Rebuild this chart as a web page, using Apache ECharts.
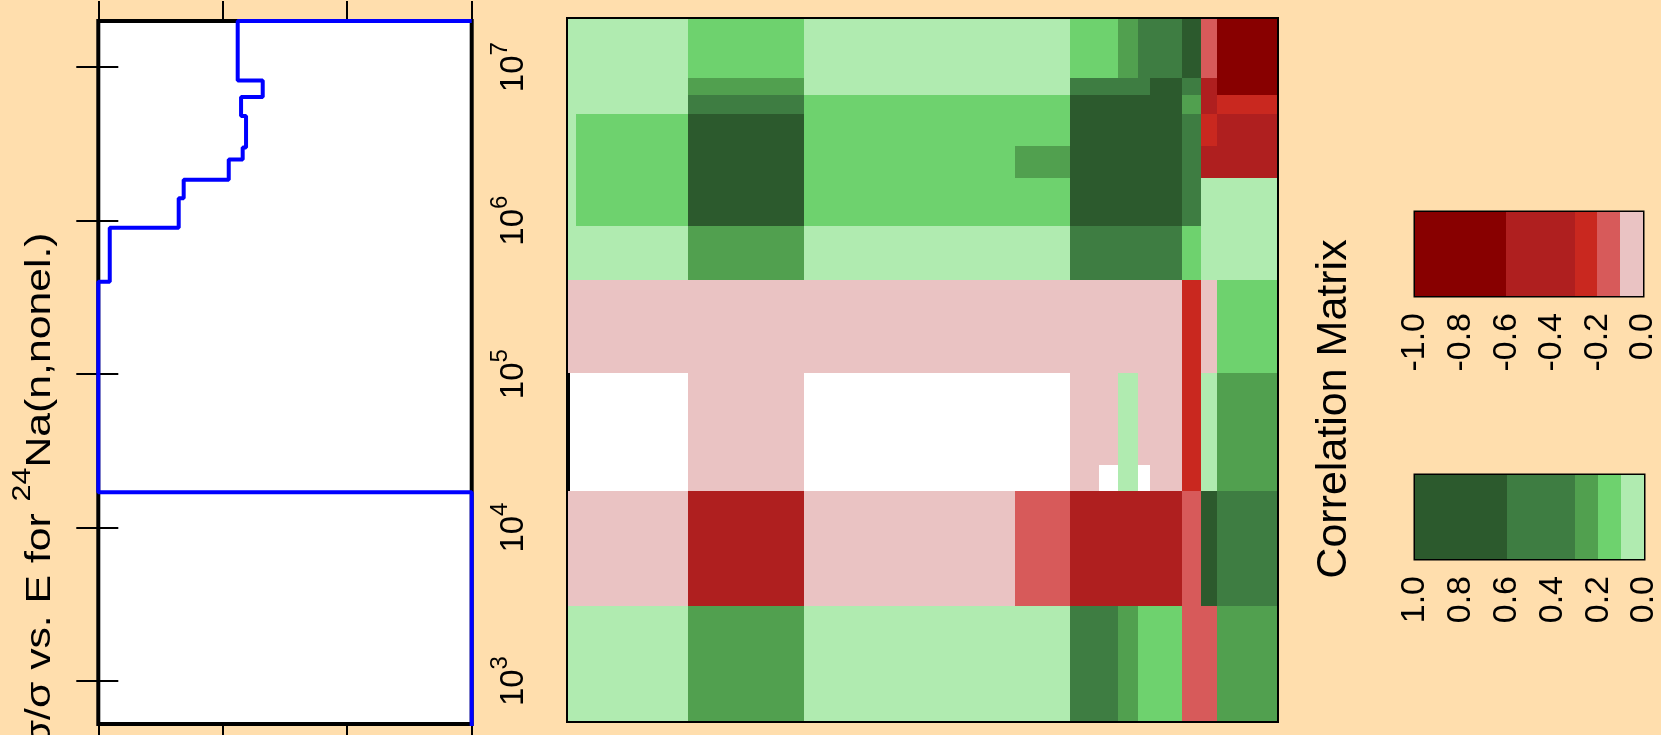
<!DOCTYPE html>
<html><head><meta charset="utf-8">
<script src="https://cdn.jsdelivr.net/npm/echarts@6/dist/echarts.min.js"></script>
<style>html,body{margin:0;padding:0;background:#FFDEAD;}#c{width:1661px;height:735px;}</style>
</head><body><div id="c"></div>
<script>
// ---------- data ----------
// energy group boundaries (eV), shared by both axes of the correlation matrix
const groupEdges = [500, 565, 3000, 1.7e4, 2.5e4, 1e5, 4e5, 9e5, 1.4e6, 1.85e6, 2.5e6, 3e6, 4.8e6, 6.4e6, 8.2e6, 2e7];
// correlation values: rows from highest group (top) to lowest group (bottom); columns from lowest to highest group
const corrRows = [
  [0.05,0.05,0.15,0.05,0.05,0.05,0.05,0.15,0.15,0.25,0.45,0.45,0.8,-0.15,-0.8],
  [0.05,0.05,0.25,0.05,0.05,0.05,0.05,0.45,0.45,0.45,0.45,0.8,0.45,-0.45,-0.8],
  [0.05,0.05,0.45,0.15,0.15,0.15,0.15,0.8,0.8,0.8,0.8,0.8,0.25,-0.45,-0.25],
  [0.05,0.15,0.8,0.15,0.15,0.15,0.15,0.8,0.8,0.8,0.8,0.8,0.45,-0.25,-0.45],
  [0.05,0.15,0.8,0.15,0.15,0.15,0.25,0.8,0.8,0.8,0.8,0.8,0.45,-0.45,-0.45],
  [0.05,0.15,0.8,0.15,0.15,0.15,0.25,0.8,0.8,0.8,0.8,0.8,0.45,-0.45,-0.45],
  [0.05,0.15,0.8,0.15,0.15,0.15,0.15,0.8,0.8,0.8,0.8,0.8,0.45,0.05,0.05],
  [0.05,0.15,0.8,0.15,0.15,0.15,0.15,0.8,0.8,0.8,0.8,0.8,0.45,0.05,0.05],
  [0.05,0.05,0.25,0.05,0.05,0.05,0.05,0.45,0.45,0.45,0.45,0.45,0.15,0.05,0.05],
  [-0.05,-0.05,-0.05,-0.05,-0.05,-0.05,-0.05,-0.05,-0.05,-0.05,-0.05,-0.05,-0.25,-0.05,0.15],
  [null,null,-0.05,null,null,null,null,-0.05,-0.05,0.05,-0.05,-0.05,-0.25,0.05,0.25],
  [null,null,-0.05,null,null,null,null,-0.05,null,0.05,null,-0.05,-0.25,0.05,0.25],
  [-0.05,-0.05,-0.45,-0.05,-0.05,-0.05,-0.15,-0.45,-0.45,-0.45,-0.45,-0.45,-0.15,0.8,0.45],
  [0.05,0.05,0.25,0.05,0.05,0.05,0.05,0.45,0.45,0.25,0.15,0.15,-0.15,-0.15,0.25],
  [0.05,0.05,0.25,0.05,0.05,0.05,0.05,0.45,0.45,0.25,0.15,0.15,-0.15,-0.15,0.25]
];
// relative uncertainty step curve
const uncEdges  = [100, 1.7e4, 4e5, 9e5, 1.4e6, 1.85e6, 2.5e6, 3e6, 4.8e6, 6.4e6, 8.2e6, 2e7];
const uncValues = [0.3, 0, 0.0092, 0.0646, 0.0686, 0.1048, 0.116, 0.1187, 0.1147, 0.1321, 0.112];
const uncTop = 0.3;
const energyTicks = [1e3, 1e4, 1e5, 1e6, 1e7];
const uncTicks = [0, 0.1, 0.2, 0.3];
// colour scales
const redBreaks   = [-1, -0.6, -0.3, -0.2, -0.1, 0];
const redColors   = ['#880000', '#AF1F1F', '#C9281F', '#D75A5A', '#EAC3C3'];
const greenBreaks = [1, 0.6, 0.3, 0.2, 0.1, 0];
const greenColors = ['#2C5A2D', '#3E7D42', '#51A04F', '#6ED26E', '#B0EBB0'];
const redTickVals   = [-1, -0.8, -0.6, -0.4, -0.2, 0];
const greenTickVals = [1, 0.8, 0.6, 0.4, 0.2, 0];

// ---------- helpers ----------
const FONT = 'Liberation Sans, Arial, sans-serif';
function cellColor(v) {
  if (v < 0) { for (let i = 0; i < 5; i++) if (v >= redBreaks[i] && v <= redBreaks[i + 1]) return redColors[i]; }
  else { for (let i = 0; i < 5; i++) if (v <= greenBreaks[i] && v >= greenBreaks[i + 1]) return greenColors[i]; }
  return '#fff';
}
const cells = [];
const nG = groupEdges.length - 1;
corrRows.forEach((row, ri) => {
  const r = nG - 1 - ri;
  row.forEach((v, c) => {
    if (v === null) return;
    cells.push([groupEdges[c], groupEdges[c + 1], groupEdges[r], groupEdges[r + 1], v]);
  });
});
const stepPts = [];
uncValues.forEach((v, i) => { stepPts.push([v, uncEdges[i]]); stepPts.push([v, uncEdges[i + 1]]); });
stepPts.push([uncTop, uncEdges[uncEdges.length - 1]]);

const redSegs = [], greenSegs = [];
for (let i = 0; i < 5; i++) {
  redSegs.push([redBreaks[i], redBreaks[i + 1], i]);
  greenSegs.push([greenBreaks[i], greenBreaks[i + 1], i]);
}

function snapRect(ax, ay, bx, by) {
  const x0 = Math.round(Math.min(ax, bx)), x1 = Math.round(Math.max(ax, bx));
  const y0 = Math.round(Math.min(ay, by)), y1 = Math.round(Math.max(ay, by));
  return { x: x0, y: y0, width: x1 - x0, height: y1 - y0 };
}
function rectItem(colorFn) {
  return function (params, api) {
    const p0 = api.coord([api.value(0), api.value(3)]);
    const p1 = api.coord([api.value(1), api.value(2)]);
    const cs = params.coordSys;
    const rect = echarts.graphic.clipRectByRect(
      snapRect(p0[0], p0[1], p1[0], p1[1]),
      snapRect(cs.x, cs.y, cs.x + cs.width, cs.y + cs.height));
    if (!rect || rect.width <= 0 || rect.height <= 0) return;
    return { type: 'rect', shape: rect, style: { fill: colorFn(api) } };
  };
}
function barItem(colors) {
  return function (params, api) {
    const p0 = api.coord([api.value(0), 1]);
    const p1 = api.coord([api.value(1), 0]);
    return { type: 'rect', shape: snapRect(p0[0], p0[1], p1[0], p1[1]), style: { fill: colors[api.value(2)] } };
  };
}
const tickStyle = { color: '#000', width: 2 };
const energyLabelRich = {
  n: { fontSize: 33, lineHeight: 42, verticalAlign: 'bottom', fontFamily: FONT, color: '#000' },
  s: { fontSize: 24, lineHeight: 24, verticalAlign: 'top', fontFamily: FONT, color: '#000' }
};

const chart = echarts.init(document.getElementById('c'), null, { renderer: 'canvas' });
chart.setOption({
  backgroundColor: '#FFDEAD',
  animation: false,
  grid: [
    { left: 98.3, top: 21, width: 373.4, height: 703, show: true, backgroundColor: '#fff', borderColor: '#000', borderWidth: 4, containLabel: false, outerBoundsMode: 'none' },
    { left: 568, top: 19, width: 709, height: 702, show: true, backgroundColor: '#fff', borderColor: '#000', borderWidth: 4, containLabel: false, outerBoundsMode: 'none' },
    { left: 1415, top: 212, width: 228, height: 84, show: true, borderColor: '#000', borderWidth: 3, containLabel: false, outerBoundsMode: 'none' },
    { left: 1415, top: 475, width: 229, height: 84, show: true, borderColor: '#000', borderWidth: 3, containLabel: false, outerBoundsMode: 'none' }
  ],
  xAxis: [
    { gridIndex: 0, type: 'value', position: 'top', min: 0, max: 0.3, interval: 0.1,
      axisLine: { show: false }, splitLine: { show: false }, axisLabel: { show: false },
      axisTick: { show: true, length: 20, lineStyle: tickStyle, customValues: uncTicks } },
    { gridIndex: 0, type: 'value', position: 'bottom', min: 0, max: 0.3, interval: 0.1,
      axisLine: { show: false }, splitLine: { show: false }, axisLabel: { show: false },
      axisTick: { show: true, length: 20, lineStyle: tickStyle, customValues: uncTicks } },
    { gridIndex: 1, type: 'log', min: 500, max: 2e7, show: false },
    { gridIndex: 2, type: 'value', position: 'bottom', min: -1, max: 0, interval: 0.2,
      axisLine: { show: false }, axisTick: { show: false }, splitLine: { show: false },
      axisLabel: { rotate: 90, margin: 17, fontSize: 34, fontFamily: FONT, color: '#000', customValues: redTickVals,
        formatter: v => v.toFixed(1) } },
    { gridIndex: 3, type: 'value', position: 'bottom', min: 0, max: 1, interval: 0.2, inverse: true,
      axisLine: { show: false }, axisTick: { show: false }, splitLine: { show: false },
      axisLabel: { rotate: 90, margin: 17, fontSize: 34, fontFamily: FONT, color: '#000', customValues: greenTickVals,
        formatter: v => v.toFixed(1) } }
  ],
  yAxis: [
    { gridIndex: 0, type: 'log', position: 'right', min: 525, max: 2e7,
      axisLine: { show: false }, splitLine: { show: false }, minorTick: { show: false },
      axisTick: { show: true, length: 20, lineStyle: tickStyle, customValues: energyTicks },
      axisLabel: { show: true, rotate: 90, margin: 17, customValues: energyTicks, fontFamily: FONT, color: '#000',
        formatter: v => '{n|10}{s|' + Math.round(Math.log10(v)) + '}', rich: energyLabelRich } },
    { gridIndex: 0, type: 'log', position: 'left', min: 525, max: 2e7,
      axisLine: { show: false }, splitLine: { show: false }, axisLabel: { show: false },
      axisTick: { show: true, length: 22, lineStyle: tickStyle, customValues: energyTicks } },
    { gridIndex: 1, type: 'log', min: 539, max: 2e7, show: false },
    { gridIndex: 2, type: 'value', min: 0, max: 1, show: false },
    { gridIndex: 3, type: 'value', min: 0, max: 1, show: false }
  ],
  series: [
    { type: 'line', xAxisIndex: 0, yAxisIndex: 0, data: stepPts, showSymbol: false, symbol: 'none',
      lineStyle: { color: '#0000ff', width: 4 }, clip: true, z: 5 },
    { type: 'custom', xAxisIndex: 2, yAxisIndex: 2, data: cells,
      encode: { x: [0, 1], y: [2, 3] },
      renderItem: rectItem(api => cellColor(api.value(4))) },
    { type: 'custom', xAxisIndex: 3, yAxisIndex: 3, data: redSegs, encode: { x: [0, 1] }, renderItem: barItem(redColors) },
    { type: 'custom', xAxisIndex: 4, yAxisIndex: 4, data: greenSegs, encode: { x: [0, 1] }, renderItem: barItem(greenColors) }
  ],
  graphic: [
    { type: 'text', x: 34.5, y: 232.5, rotation: Math.PI / 2, scaleX: 1.22,
      style: { text: '{a|\u0394\u03c3/\u03c3 vs. E for }{s|24}{a|Na(n,nonel.)}',
        align: 'right', verticalAlign: 'middle', textAlign: 'right', textVerticalAlign: 'middle',
        fontFamily: FONT, fontSize: 35, fill: '#000',
        rich: {
          a: { fontSize: 35, lineHeight: 47, verticalAlign: 'bottom', fontFamily: FONT, fill: '#000', color: '#000' },
          s: { fontSize: 25, lineHeight: 25, verticalAlign: 'top', fontFamily: FONT, fill: '#000', color: '#000' }
        } } },
    { type: 'text', x: 1334, y: 409, rotation: Math.PI / 2,
      style: { text: 'Correlation Matrix', align: 'center', verticalAlign: 'middle', textAlign: 'center', textVerticalAlign: 'middle',
        fontFamily: FONT, fontSize: 43, fill: '#000' } }
  ]
});
</script></body></html>
